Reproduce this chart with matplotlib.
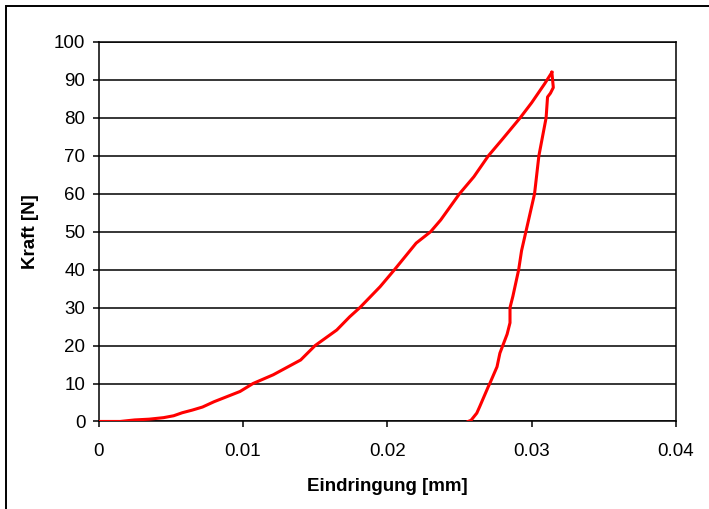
import matplotlib.pyplot as plt
from matplotlib.patches import Rectangle

# loading branch (Eindringung in mm, Kraft in N)
load_x = [0, 0.0015, 0.0025, 0.0035, 0.0045, 0.0052, 0.0058, 0.0065, 0.0072, 0.0080,
          0.0088, 0.0098, 0.0107, 0.0121, 0.0140, 0.0150, 0.0165, 0.0174, 0.0181, 0.0195,
          0.0205, 0.0220, 0.0230, 0.0237, 0.0250, 0.0260, 0.0270, 0.0280, 0.0292, 0.0300,
          0.0309, 0.0314]
load_f = [0, 0, 0.4, 0.6, 1.0, 1.5, 2.3, 3.0, 3.8, 5.2,
          6.4, 7.9, 10.0, 12.3, 16.2, 20.0, 24.1, 27.6, 30.0, 35.5,
          40.0, 47.0, 50.0, 53.1, 60.0, 64.5, 70.0, 74.5, 80.0, 84.0,
          89.0, 92.0]

# unloading branch
unload_x = [0.0314, 0.0315, 0.0313, 0.0311, 0.0310, 0.0305, 0.0302, 0.0299, 0.0296, 0.0293,
            0.0291, 0.0287, 0.0285, 0.0285, 0.0283, 0.0280, 0.0278, 0.0276, 0.0271, 0.0270,
            0.0264, 0.0262, 0.0258, 0.0256]
unload_f = [92.0, 88.0, 86.5, 85.5, 80.0, 70.0, 60.0, 55.0, 50.0, 45.0,
            40.0, 33.0, 30.0, 26.0, 23.0, 20.0, 18.0, 14.4, 10.0, 9.2,
            3.9, 2.2, 0.3, 0.0]

x_ticks = [0, 0.01, 0.02, 0.03, 0.04]
x_tick_labels = ["0", "0.01", "0.02", "0.03", "0.04"]
y_ticks = list(range(0, 101, 10))

plt.rcParams["font.family"] = ["Liberation Sans", "DejaVu Sans"]

fig = plt.figure(figsize=(7.09, 5.09), dpi=100)
ax = fig.add_axes([0.139, 0.172, 0.8145, 0.7455])

for y in y_ticks:
    ax.axhline(y, color="black", linewidth=1.1, zorder=1)

ax.plot(load_x, load_f, color="#ff0000", linewidth=2.2, zorder=3)
ax.plot(unload_x, unload_f, color="#ff0000", linewidth=2.2, zorder=3)

ax.set_xlim(0, 0.04)
ax.set_ylim(0, 100)
ax.set_xticks(x_ticks)
ax.set_xticklabels(x_tick_labels)
ax.set_yticks(y_ticks)
ax.tick_params(direction="out", length=4.5, width=1.1, labelsize=13.5, pad=5, colors="black")
ax.tick_params(axis="x", pad=11)

for spine in ax.spines.values():
    spine.set_linewidth(1.1)
    spine.set_color("black")

ax.set_xlabel("Eindringung [mm]", fontsize=13.5, fontweight="bold", labelpad=13)
ax.set_ylabel("Kraft [N]", fontsize=13.5, fontweight="bold", labelpad=11)

# outer chart border (right/bottom edges fall outside the image)
fig.patches.append(Rectangle((6 / 709, -0.05), 1.1, 1 - 6 / 509 + 0.05,
                             transform=fig.transFigure, fill=False,
                             edgecolor="black", linewidth=1.4))

fig.savefig("out.png", dpi=100)
